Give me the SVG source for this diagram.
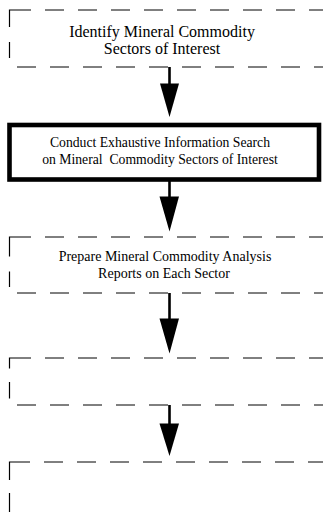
<svg xmlns="http://www.w3.org/2000/svg" width="323" height="517" viewBox="0 0 323 517">
<style>
.bg{fill:#fff}
.dh{fill:none;stroke:#000;stroke-width:1;stroke-dasharray:19 14}
.dv{fill:none;stroke:#000;stroke-width:1.2}
.solid{fill:#fff;stroke:#000;stroke-width:4.6}
.t{font-family:"Liberation Serif","Times New Roman",serif;fill:#000;text-anchor:middle;white-space:pre}
.shaft{stroke:#000;stroke-width:2.6;fill:none}
.head{fill:#000}
</style>
<rect class="bg" x="0" y="0" width="323" height="517"/>
<g id="node1">
<line class="dh" x1="12" y1="10" x2="330" y2="10"/>
<path class="dv" d="M12,10 H9.5 V27 M9.5,42 V58"/>
<line class="dh" x1="17" y1="67" x2="330" y2="67"/>
<text class="t" x="162" y="37" font-size="16">Identify Mineral Commodity</text>
<text class="t" x="162" y="54" font-size="16">Sectors of Interest</text>
</g>
<g id="node2">
<rect class="solid" x="9.5" y="125" width="309.5" height="54.5"/>
<text class="t" x="160" y="146.5" font-size="13.7">Conduct Exhaustive Information Search</text>
<text class="t" x="160" y="163.5" font-size="13.7">on Mineral  Commodity Sectors of Interest</text>
</g>
<g id="node3">
<line class="dh" x1="12" y1="237" x2="330" y2="237"/>
<path class="dv" d="M12,237 H9.5 V256.5 M9.5,271.5 V287"/>
<line class="dh" x1="17" y1="293" x2="330" y2="293"/>
<text class="t" x="165" y="261" font-size="14">Prepare Mineral Commodity Analysis</text>
<text class="t" x="164" y="277.5" font-size="14">Reports on Each Sector</text>
</g>
<g id="node4">
<line class="dh" x1="12" y1="358" x2="330" y2="358"/>
<path class="dv" d="M12,358 H9.5 V368.5 M9.5,382 V398.5"/>
<line class="dh" x1="17" y1="405" x2="330" y2="405"/>
</g>
<g id="node5">
<line class="dh" x1="11" y1="462" x2="330" y2="462"/>
<path class="dv" d="M11,462 H9.5 V480 M9.5,493 V512"/>
</g>
<g id="connectors">
<line class="shaft" x1="169.5" y1="67" x2="169.5" y2="85"/>
<polygon class="head" points="160,83.5 179,83.5 169.5,117"/>
<line class="shaft" x1="169.5" y1="181" x2="169.5" y2="198"/>
<polygon class="head" points="159.5,196.5 179,196.5 169.5,231.5"/>
<line class="shaft" x1="169.5" y1="293" x2="169.5" y2="320"/>
<polygon class="head" points="159.5,318.5 179,318.5 169.5,353.5"/>
<line class="shaft" x1="169.5" y1="405" x2="169.5" y2="425"/>
<polygon class="head" points="159.5,423.5 179,423.5 169.5,456"/>
</g>
</svg>
